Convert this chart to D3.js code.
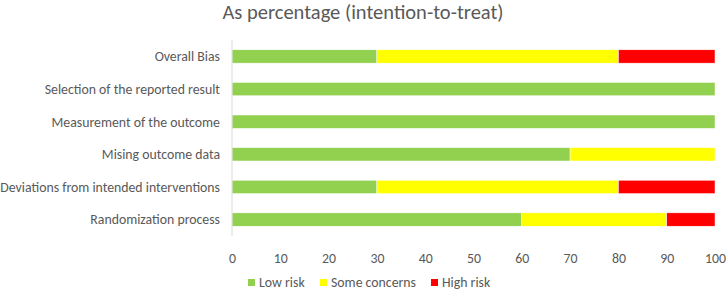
<!DOCTYPE html>
<html>
<head>
<meta charset="utf-8">
<script src="https://cdn.jsdelivr.net/npm/d3@7"></script>
<style>
  body { margin: 0; background: #fff; }
  text { font-family: Carlito, "Open Sans", "Liberation Sans", sans-serif; fill: #595959; }
</style>
</head>
<body>
<div id="chart"></div>
<script>
const domains = [
  "Overall Bias",
  "Selection of the reported result",
  "Measurement of the outcome",
  "Mising outcome data",
  "Deviations from intended interventions",
  "Randomization process"
];
const lowRisk = [30, 100, 100, 70, 30, 60];
const someConcerns = [50, 0, 0, 30, 50, 30];
const highRisk = [20, 0, 0, 0, 20, 10];
const seriesNames = ["Low risk", "Some concerns", "High risk"];
const colours = ["#92D050", "#FFFF00", "#FF0000"];
const ticks = [0, 10, 20, 30, 40, 50, 60, 70, 80, 90, 100];

const width = 726, height = 291;
const margin = { top: 40, right: 11, bottom: 55, left: 232 };

const svg = d3.select("#chart").append("svg")
  .attr("width", width)
  .attr("height", height);

svg.append("text")
  .attr("x", 363)
  .attr("y", 19)
  .attr("text-anchor", "middle")
  .attr("font-size", "20.5px")
  .text("As percentage (intention-to-treat)");

const x = d3.scaleLinear().domain([0, 100]).range([margin.left, width - margin.right]);
const y = d3.scaleBand().domain(domains).range([margin.top, height - margin.bottom]).paddingInner(0.59).paddingOuter(0.3);

const rows = domains.map((d, i) => ({ domain: d, "Low risk": lowRisk[i], "Some concerns": someConcerns[i], "High risk": highRisk[i] }));
const stacked = d3.stack().keys(seriesNames)(rows);

svg.append("g")
  .selectAll("g")
  .data(stacked)
  .join("g")
  .attr("fill", (d, i) => colours[i])
  .selectAll("rect")
  .data(d => d.filter(s => s[1] > s[0]))
  .join("rect")
  .attr("x", d => x(d[0]))
  .attr("width", d => x(d[1]) - x(d[0]))
  .attr("y", d => y(d.data.domain))
  .attr("height", y.bandwidth())
  .attr("stroke", "#fff")
  .attr("stroke-width", 0.5);

// vertical axis line
svg.append("line")
  .attr("x1", x(0)).attr("x2", x(0))
  .attr("y1", margin.top).attr("y2", height - margin.bottom)
  .attr("stroke", "#d9d9d9")
  .attr("stroke-width", 1);

// category labels
svg.append("g")
  .selectAll("text")
  .data(domains)
  .join("text")
  .attr("x", margin.left - 12)
  .attr("y", d => y(d) + y.bandwidth() / 2)
  .attr("dy", "0.35em")
  .attr("text-anchor", "end")
  .attr("font-size", "13.8px")
  .text(d => d);

const xAxis = svg.append("g")
  .attr("transform", `translate(0,${height - margin.bottom + 17})`)
  .call(d3.axisBottom(x).tickValues(ticks).tickSize(0).tickPadding(0));
xAxis.select(".domain").remove();
xAxis.selectAll("text")
  .attr("font-size", "13.8px")
  .attr("font-family", null)
  .attr("fill", "#595959");

// legend
const legendX = [248, 320, 431];
const legend = svg.append("g")
  .selectAll("g")
  .data(seriesNames)
  .join("g")
  .attr("transform", (d, i) => `translate(${legendX[i]},282)`);
legend.append("rect")
  .attr("x", 0).attr("y", -3)
  .attr("width", 7).attr("height", 7)
  .attr("fill", (d, i) => colours[i]);
legend.append("text")
  .attr("x", 11)
  .attr("dy", "0.35em")
  .attr("font-size", "13.8px")
  .text(d => d);
</script>
</body>
</html>
